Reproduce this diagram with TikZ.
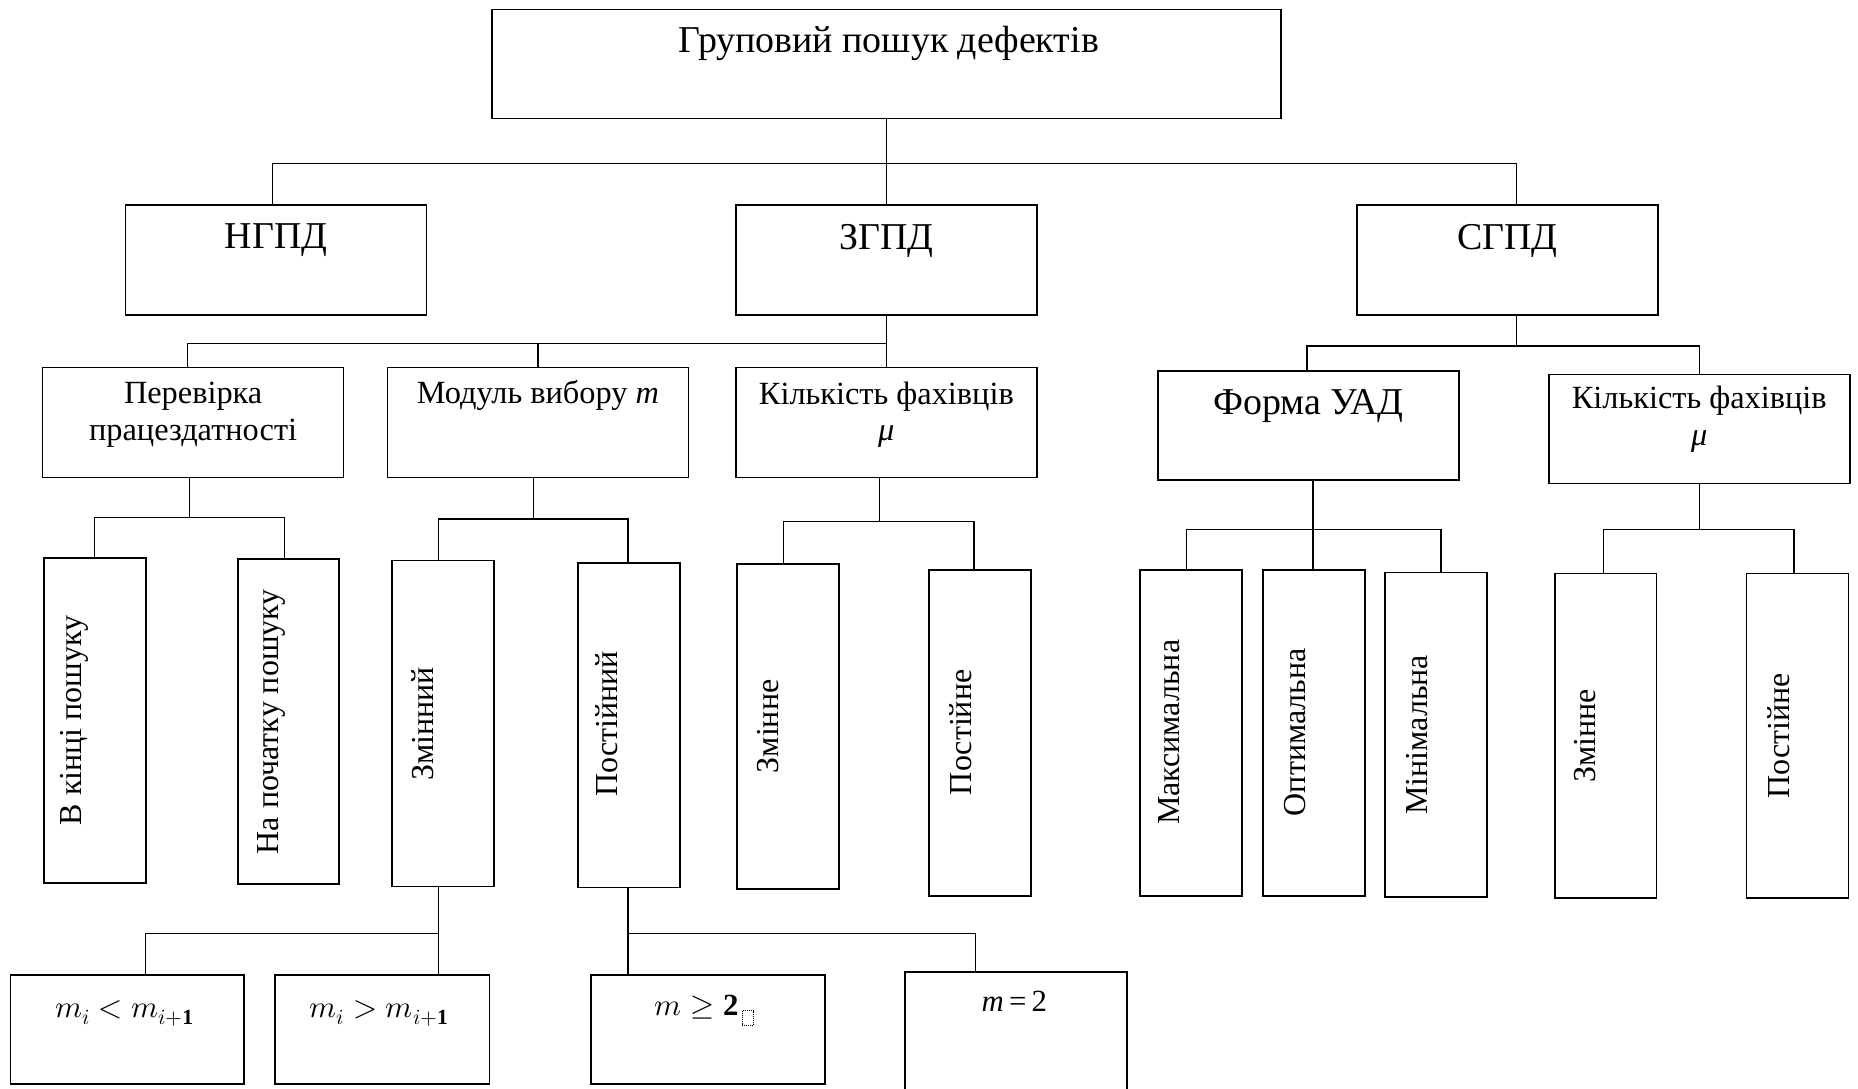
\documentclass[tikz,border=0pt]{standalone}
\usepackage{fontspec}
\usepackage{unicode-math}
\setmainfont{Liberation Serif}
\setmathfont{Latin Modern Math}
\begin{document}
\begin{tikzpicture}[x=1bp,y=-1bp,
  frame/.style={draw, line width=1.4bp, inner sep=0pt},
  box/.style={frame, minimum width=254bp, minimum height=93bp},
  vbox/.style={frame, minimum width=86bp, minimum height=275bp},
  lowbox/.style={frame, minimum height=92bp},
  link/.style={line width=1bp},
  big/.style={font=\fontsize{32bp}{36bp}\selectfont, inner sep=0pt},
  mid/.style={font=\fontsize{27.3bp}{31bp}\selectfont, align=center, inner sep=0pt},
  vtext/.style={font=\fontsize{27bp}{30bp}\selectfont, rotate=90, inner sep=0pt},
  mtext/.style={font=\fontsize{26bp}{30bp}\selectfont, inner sep=0pt},
]
\clip (0,0) rectangle (1568,919);
\fill[white] (0,0) rectangle (1568,919);

% --- root ---
\node[frame, minimum width=666bp, minimum height=92bp] (top) at (748,54) {};
\node[big] (top-t) at (750,37) {Груповий пошук дефектів};

% --- second level ---
\node[box] (ngpd) at (233,219.5) {};
\node[big] (ngpd-t) at (233,203) {НГПД};
\node[box] (zgpd) at (748,219.5) {};
\node[big] (zgpd-t) at (748,203) {ЗГПД};
\node[box] (sgpd) at (1272,219.5) {};
\node[big] (sgpd-t) at (1272,203) {СГПД};

% --- third level ---
\node[box] (perev) at (163,356.5) {};
\node[mid] (perev-t) at (163,350) {Перевірка\\працездатності};
\node[box] (modul) at (454,356.5) {};
\node[mid] (modul-t) at (454,334) {Модуль вибору \textit{m}};
\node[box] (kilk1) at (748,356.5) {};
\node[mid] (kilk1-t) at (748,350) {Кількість фахівців\\\textit{μ}};
\node[box, minimum height=92bp] (forma) at (1104,359) {};
\node[big] (forma-t) at (1104,343) {Форма УАД};
\node[box, minimum height=92bp] (kilk2) at (1434,362) {};
\node[mid] (kilk2-t) at (1434,354) {Кількість фахівців\\\textit{μ}};

% --- fourth level (upright boxes) ---
\node[vbox, minimum height=274bp] (v1) at (80,608) {};
\node[vtext] (v1-t) at (63,608) {В кінці пошуку};
\node[vbox, minimum width=85bp, minimum height=274bp] (v2) at (243.5,609) {};
\node[vtext] (v2-t) at (229,609) {На початку пошуку};
\node[vbox] (v3) at (374,610.5) {};
\node[vtext] (v3-t) at (357,611) {Змінний};
\node[vbox, minimum height=274bp] (v4) at (531,612) {};
\node[vtext] (v4-t) at (512,611) {Постійний};
\node[vbox, minimum height=274bp] (v5) at (665,613) {};
\node[vtext] (v5-t) at (648,613) {Змінне};
\node[vbox] (v6) at (827,618.5) {};
\node[vtext] (v6-t) at (811,618) {Постійне};
\node[vbox] (v7) at (1005,618.5) {};
\node[vtext] (v7-t) at (987,618) {Максимальна};
\node[vbox] (v8) at (1109,618.5) {};
\node[vtext] (v8-t) at (1093,618) {Оптимальна};
\node[vbox, minimum height=274bp] (v9) at (1212,620) {};
\node[vtext] (v9-t) at (1196,620) {Мінімальна};
\node[vbox, minimum height=274bp] (v10) at (1355,621) {};
\node[vtext] (v10-t) at (1338,621) {Змінне};
\node[vbox, minimum height=274bp] (v11) at (1517,621) {};
\node[vtext] (v11-t) at (1501,621) {Постійне};

% --- fifth level ---
\node[lowbox, minimum width=197bp] (low1) at (107.5,869) {};
\node[mtext] (low1-t) at (105,855) {$m_i < m_{i+\mathbf{1}}$};
\node[lowbox, minimum width=181bp] (low2) at (322.5,869) {};
\node[mtext] (low2-t) at (320,855) {$m_i > m_{i+\mathbf{1}}$};
\node[lowbox, minimum width=197bp] (low3) at (597.5,869) {};
\node[mtext] (low3-t) at (588,850) {$m \geq \mathbf{2}$};
\node[draw, densely dotted, line width=0.6bp, inner sep=0pt,
      minimum width=9bp, minimum height=12bp] (low3-ph) at (631,859) {};
\node[frame, line width=1.8bp, minimum width=187bp, minimum height=130bp] (low4) at (857.5,885) {};
\node[mtext] (low4-t) at (856,845) {\textit{m}\,=\,2};

% --- connectors ---
\coordinate (j0) at (748,138);
\draw[link] (top.south) -- (j0);
\draw[link] (j0) -| (ngpd.north -| 230,0);
\draw[link] (j0) -- (zgpd.north);
\draw[link] (j0) -| (sgpd.north -| 1280,0);

\coordinate (j1) at (748,290);
\draw[link] (zgpd.south) -- (j1);
\draw[link] (j1) -| (perev.north -| 158,0);
\draw[link] (j1) -| (modul.north);
\draw[link] (j1) -- (kilk1.north);

\coordinate (j2) at (1280,292);
\draw[link] (sgpd.south -| 1280,0) -- (j2);
\draw[link] (j2) -| (forma.north -| 1103,0);
\draw[link] (j2) -| (kilk2.north);

\coordinate (j3) at (160,437);
\draw[link] (perev.south -| 160,0) -- (j3);
\draw[link] (j3) -| (v1.north);
\draw[link] (j3) -| (v2.north -| 240,0);

\coordinate (j4) at (450,438);
\draw[link] (modul.south -| 450,0) -- (j4);
\draw[link] (j4) -| (v3.north -| 370,0);
\draw[link] (j4) -| (v4.north -| 530,0);

\coordinate (j5) at (742,440);
\draw[link] (kilk1.south -| 742,0) -- (j5);
\draw[link] (j5) -| (v5.north -| 661,0);
\draw[link] (j5) -| (v6.north -| 822,0);

\coordinate (j6) at (1108,447);
\draw[link] (forma.south -| 1108,0) -- (j6);
\draw[link] (j6) -| (v7.north -| 1001,0);
\draw[link] (j6) -- (v8.north -| 1108,0);
\draw[link] (j6) -| (v9.north -| 1216,0);

\coordinate (j7) at (1434,447);
\draw[link] (kilk2.south) -- (j7);
\draw[link] (j7) -| (v10.north -| 1353,0);
\draw[link] (j7) -| (v11.north -| 1514,0);

\coordinate (j8) at (370,788);
\draw[link] (v3.south -| 370,0) -- (j8);
\draw[link] (j8) -| (low1.north -| 123,0);
\draw[link] (j8) -- (low2.north -| 370,0);

\coordinate (j9) at (530,788);
\draw[link] (v4.south -| 530,0) -- (j9);
\draw[link] (j9) -- (low3.north -| 530,0);
\draw[link] (j9) -| (low4.north -| 823,0);
\end{tikzpicture}
\end{document}
